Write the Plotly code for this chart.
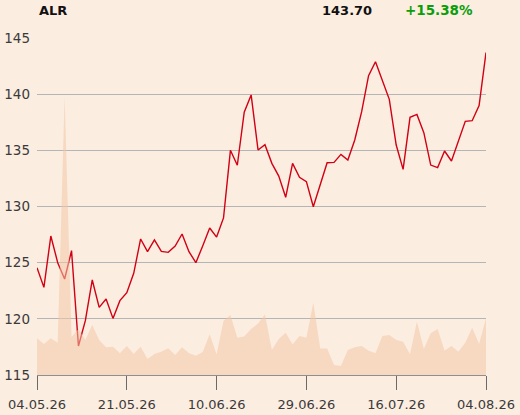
import plotly.graph_objects as go

ticker = "ALR"
last_price_text = "143.70"
change_text = "+15.38%"

tick_index = [0, 13, 26, 39, 52, 65]
tick_labels = ["04.05.26", "21.05.26", "10.06.26", "29.06.26", "16.07.26", "04.08.26"]

prices = [124.55, 122.80, 127.37, 125.00, 123.55, 126.07, 117.58, 119.84, 123.46, 121.02,
          121.76, 120.04, 121.62, 122.33, 124.05, 127.11, 125.98, 127.02, 126.01, 125.92,
          126.48, 127.55, 125.98, 125.00, 126.51, 128.09, 127.28, 128.98, 135.00, 133.67,
          138.39, 139.93, 135.03, 135.50, 133.84, 132.71, 130.82, 133.84, 132.60, 132.21,
          129.98, 131.89, 133.90, 133.93, 134.64, 134.14, 135.92, 138.44, 141.65, 142.89,
          141.26, 139.54, 135.47, 133.31, 137.94, 138.20, 136.57, 133.69, 133.46, 134.94,
          134.05, 135.77, 137.58, 137.64, 138.98, 143.70]

volume = [367, 310, 367, 323, 2783, 380, 460, 350, 500, 350,
          277, 283, 217, 290, 210, 283, 160, 210, 233, 267,
          200, 277, 217, 193, 230, 407, 205, 540, 600, 373,
          385, 460, 515, 605, 250, 360, 423, 305, 390, 373,
          723, 265, 265, 100, 90, 250, 277, 290, 243, 217,
          390, 400, 350, 333, 207, 533, 260, 417, 460, 243,
          290, 233, 323, 473, 310, 567]

idx = list(range(len(prices)))

BG = "#fcede1"
FONT = "DejaVu Sans"

fig = go.Figure()
fig.add_trace(go.Scatter(
    x=idx, y=volume, yaxis="y2", mode="lines", line=dict(width=0),
    fill="tozeroy", fillcolor="rgba(243,198,165,0.55)", hoverinfo="skip",
    showlegend=False))
fig.add_trace(go.Scatter(
    x=idx, y=prices, mode="lines", line=dict(color="#d10014", width=1.4),
    showlegend=False))

fig.update_layout(
    width=520, height=415,
    margin=dict(l=37, r=34, t=38, b=40, autoexpand=False),
    paper_bgcolor=BG, plot_bgcolor=BG,
    font=dict(family=FONT, size=13, color="#3a3a3a"),
    xaxis=dict(range=[0, len(prices) - 1], tickmode="array", tickvals=tick_index,
               ticktext=tick_labels, showgrid=False, zeroline=False,
               showline=True, linecolor="#8f8f8f", linewidth=1, automargin=False,
               ticks="outside", ticklen=14, tickcolor="#6a6a6a", tickwidth=1,
               ticklabelstandoff=3,
               tickfont=dict(size=13, color="#3a3a3a")),
    yaxis=dict(range=[115, 145], dtick=5, showgrid=True, gridcolor="#b5b5b5",
               gridwidth=1, zeroline=False, showline=False, ticks="", automargin=False,
               ticklabelstandoff=6,
               tickfont=dict(size=13.5, color="#3a3a3a")),
    yaxis2=dict(range=[0, 3370], overlaying="y", visible=False),
    annotations=[
        dict(text="<b>%s</b>" % ticker, xref="paper", yref="paper", x=0, y=1.083,
             xanchor="left", yanchor="middle", showarrow=False,
             font=dict(family=FONT, size=13, color="#111111")),
        dict(text="<b>%s</b>" % last_price_text, xref="paper", yref="paper", x=0.7506, y=1.083,
             xanchor="right", yanchor="middle", showarrow=False,
             font=dict(family=FONT, size=13, color="#111111")),
        dict(text="<b>%s</b>" % change_text, xref="paper", yref="paper", x=0.9755, y=1.083,
             xanchor="right", yanchor="middle", showarrow=False,
             font=dict(family=FONT, size=13.5, color="#0a9e0a")),
    ],
)

page_js = ("document.documentElement.style.margin='0';"
           "document.documentElement.style.overflow='hidden';"
           "document.body.style.margin='0';"
           "document.body.style.overflow='hidden';"
           "document.body.style.background='%s';" % BG)

fig.write_html("out.html", config={"displayModeBar": False}, post_script=page_js)
